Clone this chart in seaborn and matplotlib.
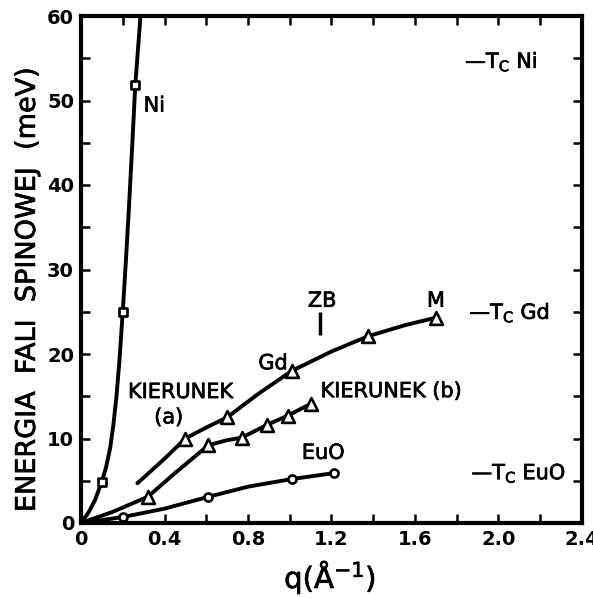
import matplotlib
matplotlib.use("Agg")
import matplotlib.pyplot as plt
import matplotlib.patheffects as pe
import pandas as pd
import seaborn as sns
from matplotlib.ticker import MultipleLocator

# Spin-wave energies (meV) against wave vector q (1/Å)
ni_q = [0.10, 0.20, 0.26]
ni_e = [4.9, 25.0, 51.8]
ni_curve_q = [0.0, 0.035, 0.067, 0.10, 0.12, 0.14, 0.155, 0.17, 0.185, 0.20,
              0.215, 0.23, 0.245, 0.26, 0.285]
ni_curve_e = [0.0, 1.2, 2.7, 4.9, 6.6, 8.9, 11.6, 15.0, 19.5, 25.0,
              31.0, 37.5, 44.5, 51.8, 60.0]

gd_a_q = [0.50, 0.70, 1.01, 1.375, 1.70]
gd_a_e = [10.0, 12.5, 18.0, 22.1, 24.3]
gd_a_curve_q = [0.27, 0.40, 0.50, 0.60, 0.70, 0.85, 1.01, 1.20, 1.375, 1.55, 1.70]
gd_a_curve_e = [4.7, 7.6, 10.0, 11.3, 12.5, 15.3, 18.0, 20.3, 22.1, 23.4, 24.3]

gd_b_q = [0.32, 0.61, 0.77, 0.89, 0.99, 1.10]
gd_b_e = [3.1, 9.2, 10.1, 11.6, 12.7, 14.1]
gd_b_curve_q = [0.0, 0.15, 0.32, 0.45, 0.61, 0.70, 0.77, 0.89, 0.99, 1.10]
gd_b_curve_e = [0.0, 1.3, 3.1, 5.9, 9.2, 9.8, 10.1, 11.6, 12.7, 14.1]

euo_q = [0.20, 0.61, 1.01, 1.21]
euo_e = [0.7, 3.1, 5.2, 5.9]
euo_curve_q = [0.0, 0.20, 0.40, 0.61, 0.80, 1.01, 1.21]
euo_curve_e = [0.0, 0.7, 1.7, 3.1, 4.3, 5.2, 5.9]

# Curie temperatures expressed as energies (meV)
tc_names = ["Ni", "Gd", "EuO"]
tc_energy = [54.6, 24.9, 5.9]

# Brillouin zone boundary
zb_q = 1.145

x_ticks = [0.0, 0.4, 0.8, 1.2, 1.6, 2.0, 2.4]
x_tick_labels = ["0", "0.4", "0.8", "1.2", "1.6", "2.0", "2.4"]
y_ticks = [0, 10, 20, 30, 40, 50, 60]
y_tick_labels = ["0", "10", "20", "30", "40", "50", "60"]

sns.set_theme(style="ticks")
plt.rcParams["font.family"] = ["DejaVu Sans"]
plt.rcParams["mathtext.default"] = "regular"

# slightly heavier strokes for the lettering
ink = [pe.withStroke(linewidth=0.5, foreground="black")]

W, H = 593, 598
fig = plt.figure(figsize=(W / 100, H / 100), dpi=100)
ax = fig.add_axes([81 / W, 75 / H, (582 - 81) / W, (523 - 16) / H])

curves = [
    (ni_curve_q, ni_curve_e),
    (gd_a_curve_q, gd_a_curve_e),
    (gd_b_curve_q, gd_b_curve_e),
    (euo_curve_q, euo_curve_e),
]
for cq, ce in curves:
    df = pd.DataFrame({"q": cq, "E": ce})
    sns.lineplot(data=df, x="q", y="E", sort=False, estimator=None,
                 color="black", linewidth=2.8, ax=ax, zorder=2)

markers = [
    (ni_q, ni_e, "s", 30),
    (gd_a_q, gd_a_e, "^", 85),
    (gd_b_q, gd_b_e, "^", 85),
    (euo_q, euo_e, "o", 34),
]
for mq, me, m, s in markers:
    df = pd.DataFrame({"q": mq, "E": me})
    sns.scatterplot(data=df, x="q", y="E", marker=m, s=s, facecolor="white",
                    edgecolor="black", linewidth=1.9, ax=ax, zorder=3)

ax.set_xlim(0, 2.4)
ax.set_ylim(0, 60)
ax.set_xticks(x_ticks, x_tick_labels)
ax.set_yticks(y_ticks, y_tick_labels)
ax.xaxis.set_minor_locator(MultipleLocator(0.2))
ax.yaxis.set_minor_locator(MultipleLocator(5))
ax.tick_params(which="both", direction="in", top=True, right=True,
               length=6.5, width=1.8, color="black")
ax.tick_params(which="major", labelsize=14, pad=5, labelcolor="black")
for lab in ax.get_xticklabels() + ax.get_yticklabels():
    lab.set_fontweight("bold")
for sp in ax.spines.values():
    sp.set_linewidth(3)
    sp.set_color("black")

ax.set_xlabel("q(Å$^{-1}$)", fontsize=21, color="black", path_effects=ink)
ax.xaxis.set_label_coords(0.497, -0.071)
ax.set_ylabel("ENERGIA  FALI  SPINOWEJ  (meV)", fontsize=19.5, color="black",
              va="center", path_effects=ink)
ax.yaxis.set_label_coords(-0.106, 0.46)

txt = dict(fontsize=15, color="black", ha="center", va="center",
           path_effects=ink)
ax.text(0.30, 49.4, "Ni", **dict(txt, ha="left"))
ax.text(0.92, 18.9, "Gd", **txt)
ax.text(0.476, 15.5, "KIERUNEK", **txt)
ax.text(0.42, 12.5, "(a)", **txt)
ax.text(1.485, 15.6, "KIERUNEK (b)", **txt)
ax.text(1.16, 8.3, "EuO", **txt)
ax.text(1.155, 26.3, "ZB", **txt)
ax.text(1.70, 26.3, "M", **txt)
ax.vlines(zb_q, 22.2, 25.0, color="black", linewidth=2.5)

tc_x = [1.84, 1.86, 1.87]
for name, e, x in zip(tc_names, tc_energy, tc_x):
    ax.text(x, e, "—T$_{C}$ " + name, fontsize=15, color="black",
            ha="left", va="center", path_effects=ink)

fig.savefig("out.png", dpi=100, facecolor="white")
